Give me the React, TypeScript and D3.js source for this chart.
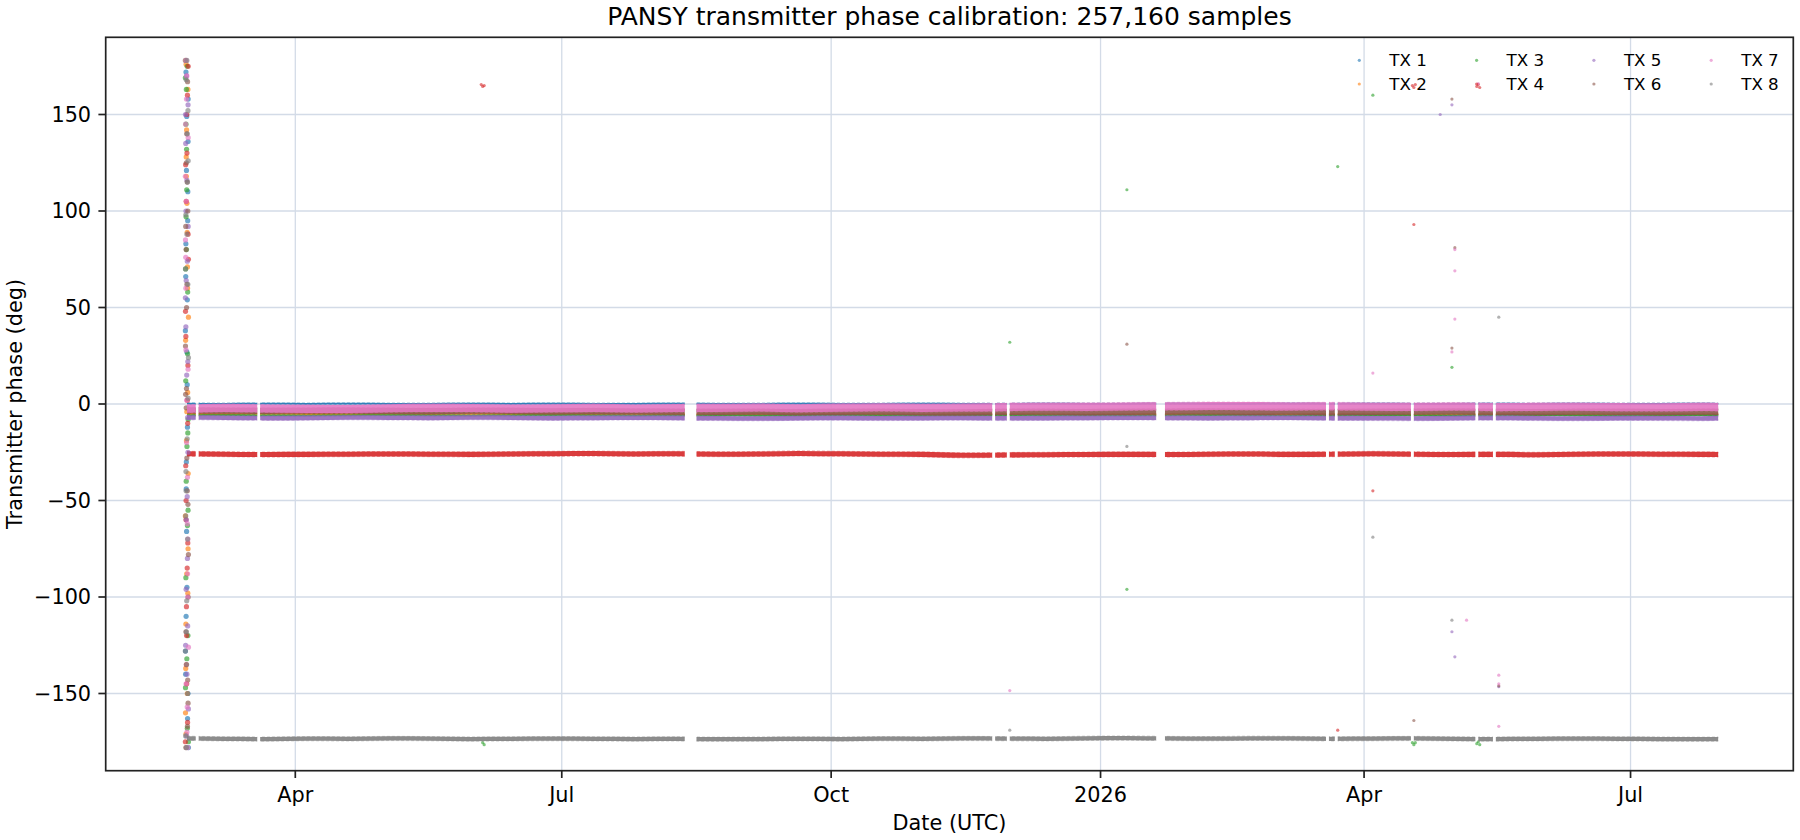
import * as d3 from 'd3';

// ---- data ----
const txNames = ['TX 1', 'TX 2', 'TX 3', 'TX 4', 'TX 5', 'TX 6', 'TX 7', 'TX 8'];

// semi-monthly sample dates of the band centres
const sampleDates = [
  '2025-02-23', '2025-03-08', '2025-03-22', '2025-04-05', '2025-04-19', '2025-05-03', '2025-05-17',
  '2025-05-31', '2025-06-14', '2025-06-28', '2025-07-12', '2025-07-26', '2025-08-09', '2025-08-23',
  '2025-09-06', '2025-09-20', '2025-10-04', '2025-10-18', '2025-11-01', '2025-11-15', '2025-11-29',
  '2025-12-13', '2025-12-27', '2026-01-10', '2026-01-24', '2026-02-07', '2026-02-21', '2026-03-07',
  '2026-03-21', '2026-04-04', '2026-04-18', '2026-05-02', '2026-05-16', '2026-05-30', '2026-06-13',
  '2026-06-27', '2026-07-11', '2026-07-25', '2026-07-31',
];

const tx1Phase = [0.2, 0.1, 0.2, 0.1, 0.2, 0.1, 0.1, 0.2, 0.1, 0.2, 0.1, 0.1, 0.2, 0.1, 0.1, 0.2, 0.1, 0.1, 0.2, 0.1, 0.1, 0.2, 0.1, 0.1, 0.2, 0.1, 0.1, 0.2, 0.1, 0.2, 0.1, 0.1, 0.2, 0.1, 0.2, 0.1, 0.1, 0.2, 0.1];
const tx2Phase = [-5.1, -5.2, -5.1, -5.2, -5.3, -5.1, -5.2, -5.1, -5.2, -5.3, -5.2, -5.1, -5.3, -5.4, -5.3, -5.4, -5.3, -5.4, -5.5, -5.4, -5.3, -5.4, -5.5, -5.4, -5.3, -5.4, -5.5, -5.4, -5.3, -5.4, -5.5, -5.4, -5.3, -5.4, -5.5, -5.4, -5.3, -5.4, -5.4];
const tx3Phase = [-5.9, -5.8, -5.9, -6.0, -5.9, -5.8, -5.9, -6.0, -5.9, -5.8, -5.9, -6.0, -5.9, -5.9, -6.0, -5.9, -5.8, -5.9, -6.0, -5.9, -5.8, -5.9, -5.9, -6.0, -5.9, -5.8, -5.9, -6.0, -5.9, -5.8, -5.9, -6.0, -5.9, -5.8, -5.9, -6.0, -5.9, -5.8, -5.9];
const tx4Phase = [-25.8, -26.0, -26.2, -26.1, -26.0, -25.9, -26.0, -26.1, -25.9, -25.8, -25.7, -25.9, -25.8, -26.0, -25.9, -25.6, -25.8, -26.0, -26.1, -26.6, -26.4, -26.3, -26.2, -26.1, -26.2, -26.0, -25.9, -26.1, -26.0, -25.8, -26.0, -26.2, -26.1, -26.3, -26.0, -25.9, -26.0, -26.1, -26.2];
const tx5Phase = [-7.0, -7.1, -7.3, -7.2, -7.0, -7.1, -7.2, -7.0, -7.1, -7.3, -7.2, -7.1, -7.2, -7.4, -7.5, -7.3, -7.2, -7.4, -7.3, -7.2, -7.4, -7.3, -7.2, -7.1, -7.2, -7.3, -7.2, -7.1, -7.3, -7.4, -7.5, -7.3, -7.2, -7.4, -7.5, -7.3, -7.4, -7.5, -7.3];
const tx6Phase = [-3.3, -3.5, -3.6, -3.5, -3.4, -3.6, -3.7, -3.5, -3.6, -3.8, -3.7, -3.9, -4.0, -4.1, -4.0, -4.2, -4.1, -4.0, -4.2, -4.3, -4.1, -4.0, -4.2, -4.1, -4.0, -3.9, -4.1, -4.0, -4.2, -4.1, -4.0, -3.9, -4.1, -4.2, -4.0, -4.1, -4.2, -4.0, -4.1];
const tx7Phase = [-2.4, -2.0, -2.3, -2.5, -2.6, -2.2, -2.0, -2.1, -2.4, -2.2, -2.0, -2.3, -2.1, -2.0, -1.8, -2.2, -1.9, -1.7, -2.0, -1.8, -1.6, -1.4, -1.5, -1.3, -1.2, -1.0, -1.1, -1.3, -1.2, -1.4, -1.5, -1.3, -1.6, -1.5, -1.4, -1.6, -1.7, -1.5, -1.6];
const tx8Phase = [-173.2, -173.5, -173.6, -173.4, -173.5, -173.3, -173.4, -173.6, -173.5, -173.4, -173.5, -173.6, -173.5, -173.7, -173.6, -173.5, -173.6, -173.4, -173.5, -173.3, -173.4, -173.5, -173.2, -173.1, -173.3, -173.4, -173.2, -173.3, -173.5, -173.4, -173.3, -173.5, -173.6, -173.5, -173.4, -173.5, -173.6, -173.7, -173.6];
const txPhase = [tx1Phase, tx2Phase, tx3Phase, tx4Phase, tx5Phase, tx6Phase, tx7Phase, tx8Phase];

// half-width of the scatter around each centre (deg)
const txSpread = [0.45, 0.5, 0.45, 1.3, 1.2, 1.6, 2.1, 1.1];

// periods with data (gaps between)
const coverage = [
  ['2025-02-23', '2025-02-26'], ['2025-02-27', '2025-03-19'], ['2025-03-20', '2025-08-12'],
  ['2025-08-16', '2025-11-25'], ['2025-11-26', '2025-11-30'], ['2025-12-01', '2026-01-20'],
  ['2026-01-23', '2026-03-19'], ['2026-03-20', '2026-03-22'], ['2026-03-23', '2026-04-17'],
  ['2026-04-18', '2026-05-09'], ['2026-05-10', '2026-05-15'], ['2026-05-16', '2026-07-31'],
];

// unlocked burst at start: hours after burstStart, phases per TX
const burstStart = '2025-02-22T02:00:00Z';
const burstHours = [14, 22, 9, 30, 18, 26, 12, 34, 20, 16, 28, 10, 24, 32, 19, 13, 27, 21, 15, 31, 17, 25, 11, 29];
const burstTx1 = [172, -95, 38, -150, 121, -12, 66, -178, 149, -44, 95, -128, 10, 158, -66, 83, -163, 27, -110, 136, -30, 54, -140, 110];
const burstTx2 = [-171, 104, -58, 163, -19, 71, -137, 45, -88, 128, 6, -160, 89, -36, 142, -114, 60, -4, 176, -75, 118, -150, 33, -98];
const burstTx3 = [145, -22, 169, -120, 80, -63, 12, -175, 111, -40, 58, -147, 175, -8, 132, -90, 26, -132, 97, -55, 163, -168, 70, -15];
const burstTx4 = [-60, 130, -175, 20, -105, 160, -32, 75, -145, 105, -10, 48, -85, 175, -120, 35, -165, 150, -50, 88, -135, 2, 124, -72];
const burstTx5 = [100, -140, 55, -25, 170, -80, 135, -158, 15, 64, -115, 150, -48, 92, -172, 40, -7, 116, -96, 155, -60, 74, -125, 22];
const burstTx6 = [-118, 62, 178, -52, 8, -167, 92, -78, 140, -2, -143, 30, 115, -100, 50, -178, 167, -28, 80, -155, 125, -45, 5, 100];
const burstTx7 = [28, -170, 118, -70, 158, -38, 76, -126, 2, 178, -100, 85, -157, 138, -20, 60, -88, 170, -145, 18, 105, -62, 145, -178];
const burstTx8 = [-35, 88, -128, 152, -178, 115, -58, 24, -102, 168, -150, 70, -18, 126, -135, 98, -70, 178, -45, 3, -118, 140, -172, 62];
const burstPhase = [burstTx1, burstTx2, burstTx3, burstTx4, burstTx5, burstTx6, burstTx7, burstTx8];

// isolated outliers
const outlierDates = [
  '2025-06-03T12:00Z', '2025-06-04T00:00Z', '2025-06-04T12:00Z', '2025-06-04T00:00Z', '2025-06-04T12:00Z',
  '2025-12-01', '2025-12-01', '2025-12-01',
  '2026-01-10', '2026-01-10', '2026-01-10', '2026-01-10',
  '2026-03-23', '2026-03-23',
  '2026-04-04', '2026-04-04', '2026-04-04', '2026-04-04',
  '2026-04-17T12:00Z', '2026-04-18T00:00Z', '2026-04-18T12:00Z', '2026-04-18', '2026-04-17T12:00Z', '2026-04-18T00:00Z', '2026-04-18T12:00Z', '2026-04-18',
  '2026-04-27', '2026-05-01', '2026-05-01', '2026-05-01', '2026-05-01', '2026-05-01', '2026-05-01', '2026-05-01',
  '2026-05-02', '2026-05-02', '2026-05-02', '2026-05-02', '2026-05-02', '2026-05-06',
  '2026-05-09T12:00Z', '2026-05-10T00:00Z', '2026-05-10T12:00Z', '2026-05-10', '2026-05-09T12:00Z', '2026-05-10T00:00Z', '2026-05-10T12:00Z',
  '2026-05-17', '2026-05-17', '2026-05-17', '2026-05-17', '2026-05-17', '2026-05-17',
];
const outlierTx = [
  4, 4, 4, 3, 3,
  3, 7, 8,
  3, 6, 3, 8,
  3, 4,
  3, 7, 4, 8,
  4, 4, 4, 4, 3, 3, 3, 6,
  5, 6, 5, 7, 6, 3, 8, 5,
  7, 6, 7, 7, 5, 7,
  4, 4, 4, 7, 3, 3, 3,
  8, 7, 7, 6, 5, 7,
];
const outlierPhase = [
  165.5, 164.5, 165, -175.5, -176.5,
  32, -148.5, -169,
  111, 31, -96, -22,
  123, -169,
  160, 16, -45, -69,
  165, 164, 165.5, 93, -175.5, -176.5, -175.5, -164,
  150, 158, 155, 27, 29, 19, -112, -118,
  80, 81, 69, 44, -131, -112,
  164.5, 165.5, 164, 166, -176, -175, -176.5,
  45, -140.5, -145, -146, -146.5, -167,
];

const xTickDates = ['2025-04-01', '2025-07-01', '2025-10-01', '2026-01-01', '2026-04-01', '2026-07-01'];
const xTickLabels = ['Apr', 'Jul', 'Oct', '2026', 'Apr', 'Jul'];
const yTicks = [-150, -100, -50, 0, 50, 100, 150];

// ---- layout ----
const W = 1800;
const H = 840;
const left = 105.7;
const right = 1793.3;
const top = 37.3;
const bottom = 770.7;
const FONT = 'DejaVu Sans, sans-serif';
const colors = d3.schemeCategory10.slice(0, 8);
const axisColor = '#222';
const gridColor = '#d3dbe7';

export default function App() {
  const x = d3
    .scaleUtc()
    .domain([new Date('2025-01-26T06:00:00Z'), new Date('2026-08-25T14:00:00Z')])
    .range([left, right]);
  const y = d3.scaleLinear().domain([-190, 190]).range([bottom, top]);

  const dates = sampleDates.map((s) => new Date(s));
  const burst0 = new Date(burstStart).getTime();
  const fmtMinus = (v: number) => (v < 0 ? '\u2212' + Math.abs(v) : String(v));

  const bandArea = (spread: number) =>
    d3
      .area<number>()
      .x((_, i) => x(dates[i]))
      .y0((v) => y(v - spread))
      .y1((v) => y(v + spread))
      .curve(d3.curveMonotoneX);

  return (
    <svg
      width={W}
      height={H}
      viewBox={`0 0 ${W} ${H}`}
      style={{ position: 'absolute', left: 0, top: 0, display: 'block', background: '#fff' }}
      fontFamily={FONT}
    >
      <defs>
        <clipPath id="coverage">
          {coverage.map(([a, b]) => (
            <rect key={a} x={x(new Date(a))} y={top} width={x(new Date(b)) - x(new Date(a))} height={bottom - top} />
          ))}
        </clipPath>
        <clipPath id="plot">
          <rect x={left} y={top} width={right - left} height={bottom - top} />
        </clipPath>
      </defs>

      {/* grid */}
      <g stroke={gridColor} strokeWidth={1.3}>
        {xTickDates.map((d) => (
          <line key={d} x1={x(new Date(d))} x2={x(new Date(d))} y1={top} y2={bottom} />
        ))}
        {yTicks.map((t) => (
          <line key={t} x1={left} x2={right} y1={y(t)} y2={y(t)} />
        ))}
      </g>

      {/* data, one transmitter after another */}
      <g clipPath="url(#plot)">
        {txPhase.map((vals, k) => (
          <g key={k}>
            <path
              d={bandArea(txSpread[k])(vals) || ''}
              fill={colors[k]}
              fillOpacity={0.9}
              stroke={colors[k]}
              strokeOpacity={0.4}
              strokeWidth={1}
              strokeDasharray="3 2"
              clipPath="url(#coverage)"
            />
            {burstPhase[k].map((p, i) => (
              <circle
                key={'b' + i}
                cx={x(new Date(burst0 + burstHours[i] * 3600e3))}
                cy={y(p)}
                r={2.6}
                fill={colors[k]}
                fillOpacity={0.65}
              />
            ))}
            {outlierPhase.map((p, i) =>
              outlierTx[i] === k + 1 ? (
                <circle
                  key={'o' + i}
                  cx={x(new Date(outlierDates[i]))}
                  cy={y(p)}
                  r={1.6}
                  fill={colors[k]}
                  fillOpacity={0.6}
                />
              ) : null
            )}
          </g>
        ))}
      </g>

      {/* spines */}
      <rect x={left} y={top} width={right - left} height={bottom - top} fill="none" stroke={axisColor} strokeWidth={1.7} />

      {/* x axis */}
      <g>
        {xTickDates.map((d, i) => (
          <g key={d} transform={`translate(${x(new Date(d))},${bottom})`}>
            <line y2={7.3} stroke={axisColor} strokeWidth={1.7} />
            <text y={24} textAnchor="middle" dominantBaseline="central" fontSize={20.8} fill="#000">
              {xTickLabels[i]}
            </text>
          </g>
        ))}
        <text x={(left + right) / 2} y={823} textAnchor="middle" dominantBaseline="central" fontSize={20.8} fill="#000">
          Date (UTC)
        </text>
      </g>

      {/* y axis */}
      <g>
        {yTicks.map((t) => (
          <g key={t} transform={`translate(${left},${y(t)})`}>
            <line x2={-7.3} stroke={axisColor} strokeWidth={1.7} />
            <text x={-14.6} textAnchor="end" dominantBaseline="central" fontSize={20.8} fill="#000">
              {fmtMinus(t)}
            </text>
          </g>
        ))}
        <text
          transform={`translate(15,${(top + bottom) / 2}) rotate(-90)`}
          textAnchor="middle"
          dominantBaseline="central"
          fontSize={20.8}
          fill="#000"
        >
          Transmitter phase (deg)
        </text>
      </g>

      {/* title */}
      <text x={(left + right) / 2} y={16} textAnchor="middle" dominantBaseline="central" fontSize={25} fill="#000">
        PANSY transmitter phase calibration: 257,160 samples
      </text>

      {/* legend */}
      <g>
        {txNames.map((name, i) => {
          const lx = 1359.3 + Math.floor(i / 2) * 117.3;
          const ly = 60.3 + (i % 2) * 23.7;
          return (
            <g key={name}>
              <circle cx={lx} cy={ly} r={1.6} fill={colors[i]} fillOpacity={0.6} />
              <text x={lx + 30} y={ly} dominantBaseline="central" fontSize={16.7} fill="#000">
                {name}
              </text>
            </g>
          );
        })}
      </g>
    </svg>
  );
}
